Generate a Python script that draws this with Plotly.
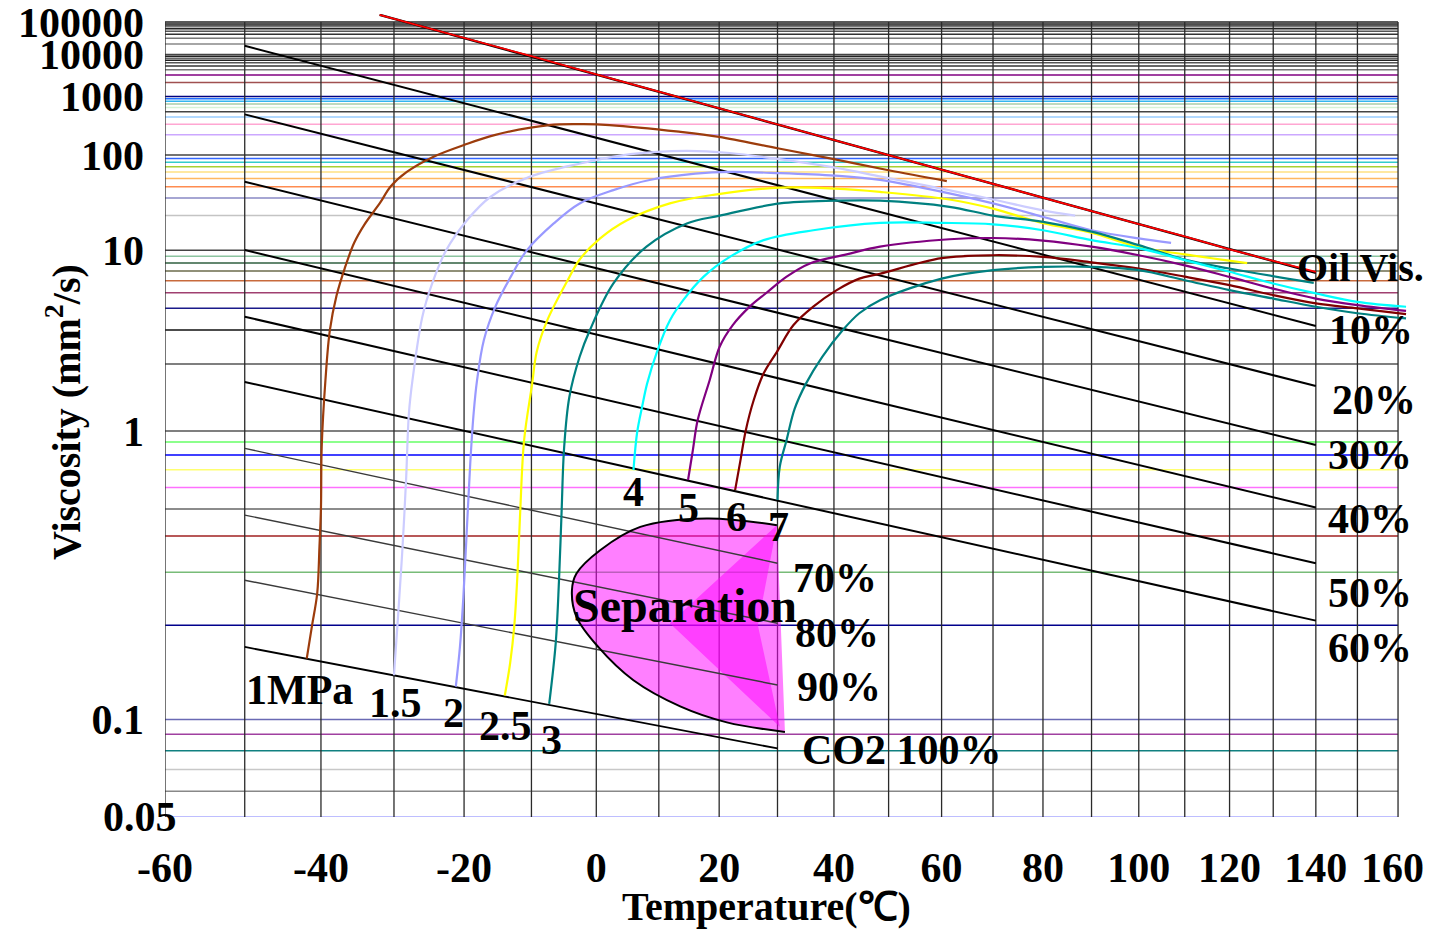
import numpy as np
import plotly.graph_objects as go

FONT = "Liberation Serif, Times New Roman, serif"


# Viscosity-temperature chart coordinates:
# x = log10(T + 273.15), y = log10(log10(nu + 1))
def tx(t):
    return np.log10(np.asarray(t, dtype=float) + 273.15)


def ty(v):
    return np.log10(np.log10(np.asarray(v, dtype=float) + 1.0))


# ---------------- axis ticks ----------------
x_ticks = [-60, -40, -20, 0, 20, 40, 60, 80, 100, 120, 140]
x_tick_text = ["-60", "-40", "-20", "0", "20", "40", "60", "80", "100", "120", "140"]
x_last_tick = 160
y_ticks = [100000, 10000, 1000, 100, 10, 1, 0.1]
y_tick_text = ["100000", "10000", "1000", "100", "10", "1", "0.1"]

# ---------------- grid ----------------
grid_temps = list(range(-60, 161, 10))
grid_visc = [100000, 90000, 80000, 70000, 60000, 50000, 40000, 30000, 20000,
             10000, 9000, 8000, 7000, 6000, 5000, 4000, 3000, 2000,
             1000, 900, 800, 700, 600, 500, 400, 300, 200,
             100, 90, 80, 70, 60, 50, 40, 30, 20,
             10, 9, 8, 7, 6, 5, 4, 3, 2,
             1, 0.9, 0.8, 0.7, 0.6, 0.5, 0.4, 0.3, 0.2,
             0.1, 0.09, 0.08, 0.07, 0.06, 0.05]
grid_colors = ["#222222", "#555555", "#222222", "#777777", "#222222", "#555555", "#333333", "#777777", "#888888",
               "#444444", "#222222", "#666666", "#222222", "#555555", "#333333", "#777777", "#800080", "#A05050",
               "#000080", "#1F6FFF", "#33B5F0", "#A8CCA8", "#D5F2D5", "#444444", "#99CCFF", "#FFA6D2", "#CCA8FF",
               "#444444", "#3366FF", "#33CCCC", "#A8D030", "#FFE080", "#FFB860", "#FF8C50", "#8888C4", "#C4C4C4",
               "#444444", "#8CC4A0", "#2F5F3F", "#6B6B4B", "#C86A3C", "#A04070", "#1A1A8A", "#111111", "#555555",
               "#555555", "#66FF66", "#0000FF", "#FFFF70", "#FF70FF", "#666666", "#A02020", "#78BC78", "#00008C",
               "#6A6AB4", "#A040A0", "#108080", "#C8C8C8", "#888888", "#A8A8FF"]

# ---------------- oil viscosity ----------------
oil_T = [-32, -20, -10, 0, 10, 20, 30, 40, 50, 60, 70, 80, 90, 100, 110, 120, 130, 140]
oil_v = [180000, 31000, 9000, 3100, 1250, 580, 300, 165, 100, 64, 43, 30, 22, 16.7, 13, 10.2, 8.3, 6.9]
oil_fit_T = [-32, 140]
oil_fit_v = [180000, 6.8]

# ---------------- oil / CO2 mixture lines ----------------
dil_names = ["10%", "20%", "30%", "40%", "50%", "60%"]
dil_T = [-50, 140]
dil_start = [17750, 447, 45.6, 10.05, 3.57, 1.64]
dil_end = [3.16, 1.57, 0.876, 0.506, 0.322, 0.207]

rich_names = ["70%", "80%", "90%", "CO2 100%"]
rich_T = [-50, 30]
rich_start = [0.849, 0.475, 0.282, 0.170]
rich_end = [0.322, 0.203, 0.1285, 0.0813]

# ---------------- saturation curves by pressure ----------------
p10_T = [-41.9, -41.2, -40.5, -40.2, -40.0, -39.9, -39.4, -38.8, -37.9, -36.8, -35.5, -34.1,
         -31.9, -30.5, -28.2, -24.4, -20.0, -15.4, -7.3, -2.0, 2.1, 13.3, 20.0, 30.0, 40.0, 50.0, 61.0]
p10_v = [0.156, 0.199, 0.255, 0.367, 0.505, 0.86, 1.67, 3.0, 4.8, 7.3, 11.5, 16.5,
         27, 40, 60, 95, 140, 200, 290, 300, 290, 225, 186, 125, 88, 63, 46.5]

p15_T = [-30.0, -29.4, -28.8, -28.3, -27.9, -27.4, -26.0, -24.6, -22.6, -19.6, -16.1, -10.2,
         -2.5, 5.4, 14.5, 21.8, 30.3, 40.2, 48.6, 60, 70, 80, 86.6]
p15_v = [0.138, 0.219, 0.367, 0.645, 1.19, 1.67, 3.57, 5.75, 10, 18, 31, 52.5,
         77, 103, 115, 107, 88, 68, 52.5, 38, 29, 22.5, 20]

p20_T = [-21.2, -20.6, -20.1, -19.6, -19.1, -18.6, -18.1, -17.1, -15.4, -13.1, -10.7, -6.6,
         -2.6, 2.7, 8.5, 16.0, 21.8, 30.4, 40.2, 48.4, 61.5, 70, 80, 90, 100, 107]
p20_v = [0.127, 0.170, 0.248, 0.42, 0.74, 1.19, 1.67, 2.65, 4.1, 6.4, 10, 16.9,
         26.4, 36.6, 47.8, 57, 60, 58, 54, 48, 33.7, 26.4, 19.5, 14.7, 12.5, 11.5]

p25_T = [-14.0, -13.2, -12.6, -12.1, -11.7, -11.1, -9.9, -9.2, -7.6, -4.5, -2.6, 0.6,
         4.8, 11.8, 19.0, 30.4, 40.2, 48.4, 61.5, 70, 80, 90, 100, 110, 124]
p25_v = [0.119, 0.151, 0.197, 0.297, 0.485, 0.92, 1.6, 2.3, 3.4, 6.0, 8.5, 12.5,
         18, 26.4, 32.5, 39, 38, 35, 29, 23.4, 17, 14, 10.6, 9.3, 8.0]

p30_T = [-7.3, -6.3, -5.8, -5.4, -5.0, -4.2, -2.6, -1.0, 2.7, 8.0, 14.6, 20.1,
         30.4, 40.2, 48.4, 61.5, 70, 80, 90, 100, 110, 120, 139.5]
p30_v = [0.112, 0.175, 0.28, 0.485, 0.86, 1.40, 2.17, 3.0, 5.75, 10.7, 16.9, 20,
         26.4, 28.2, 28.2, 24.4, 20, 17.5, 14.3, 11, 8.5, 7.3, 5.8]

p40_T = [5.9, 6.5, 7.3, 8.1, 9.7, 11.8, 14.0, 17.4, 21.8, 27.6, 36.3, 48.4,
         60, 70, 80, 90, 100, 110, 120, 130, 140, 150, 162]
p40_v = [0.698, 0.99, 1.27, 1.61, 2.3, 3.4, 4.49, 6.4, 8.9, 12.1, 14.7, 17.1,
         17.1, 16.6, 14.7, 12.1, 10.4, 8.42, 6.92, 5.75, 4.95, 4.38, 4.09]

p50_T = [14.8, 15.6, 16.4, 18.4, 20.1, 22.3, 25.2, 28.1, 31.6, 35.7, 42.3, 48.4,
         61.5, 70, 80, 90, 100, 110, 120, 130, 140, 150, 162]
p50_v = [0.64, 0.836, 1.11, 1.67, 2.45, 3.2, 4.1, 5.0, 6.4, 7.95, 9.3, 10.7,
         12.3, 12.6, 12.0, 10.7, 9.16, 7.7, 6.37, 5.32, 4.59, 4.18, 3.86]

p60_T = [22.7, 23.6, 24.5, 25.9, 27.6, 29.9, 32.8, 36.3, 40.5, 44.6, 48.4,
         60, 70, 80, 90, 100, 110, 120, 130, 140, 150, 162]
p60_v = [0.586, 0.76, 1.0, 1.36, 1.8, 2.3, 3.2, 4.1, 5.2, 6.2, 6.7,
         8.7, 9.16, 8.9, 8.1, 7.3, 6.4, 5.6, 4.83, 4.29, 4.0, 3.7]

p70_T = [30.0, 30.4, 31.6, 33.0, 35.0, 37.9, 41.6, 44.6, 48.4,
         60, 70, 80, 90, 100, 110, 120, 130, 140, 150, 162]
p70_v = [0.539, 0.72, 0.92, 1.24, 1.61, 2.17, 3.0, 3.74, 4.49,
         6.2, 7.1, 7.5, 7.5, 7.1, 6.05, 5.2, 4.59, 4.09, 3.74, 3.49]

pressure_names = ["1MPa", "1.5", "2", "2.5", "3", "4", "5", "6", "7"]
pressure_colors = ["#9C3C0C", "#CCCCFF", "#9999FF", "#FFFF00", "#008080",
                   "#00FFFF", "#800080", "#800000", "#008080"]

# ---------------- separation zone ----------------
sep_T = [29.9, 17.9, 7.0, 0.6, -3.1, -3.8, -3.1, 0.3, 5.9, 13.5, 21.3, 31.3]
sep_v = [0.437, 0.462, 0.431, 0.357, 0.297, 0.261, 0.213, 0.170, 0.133, 0.110, 0.098, 0.0915]
sep_core_T = [29.9, 11.8, 30.4, 26.6]
sep_core_v = [0.437, 0.203, 0.0949, 0.200]

# ---------------- text labels (text, T, nu, anchor, size) ----------------
line_labels = [
    ("Oil Vis.", 135.0, 7.4, "left", 40),
    ("10%", 153.3, 3.0, "center", 42),
    ("20%", 154.0, 1.36, "center", 42),
    ("30%", 153.0, 0.80, "center", 42),
    ("40%", 153.0, 0.46, "center", 42),
    ("50%", 153.0, 0.255, "center", 42),
    ("60%", 153.0, 0.169, "center", 42),
    ("70%", 40.2, 0.287, "center", 42),
    ("80%", 40.5, 0.189, "center", 42),
    ("90%", 41.0, 0.127, "center", 42),
    ("CO2 100%", 33.9, 0.0803, "left", 42),
    ("1MPa", -42.8, 0.124, "center", 42),
    ("1.5", -29.8, 0.113, "center", 42),
    ("2", -21.5, 0.105, "center", 42),
    ("2.5", -13.9, 0.0954, "center", 42),
    ("3", -7.0, 0.0863, "center", 42),
    ("4", 5.9, 0.576, "center", 42),
    ("5", 14.9, 0.504, "center", 42),
    ("6", 22.9, 0.467, "center", 42),
    ("7", 30.2, 0.430, "center", 42),
]

# ---------------- figure geometry ----------------
W, H = 1429, 929
M_L, M_R, M_T, M_B = 165, 19, 14, 112
PX_X, PX_Y = 4004.0, 335.0
x_lo = float(tx(-60))
x_hi = x_lo + (W - M_L - M_R) / PX_X
y_lo = float(ty(0.05))
y_hi = y_lo + (H - M_T - M_B) / PX_Y
TXT = 42

fig = go.Figure()


def add_line(T, v, color, width, dash=None, shape="linear"):
    fig.add_trace(go.Scatter(
        x=tx(T), y=ty(v), mode="lines",
        line=dict(color=color, width=width, dash=dash, shape=shape),
        hoverinfo="skip", showlegend=False))


# horizontal grid
for v, c in zip(grid_visc, grid_colors):
    add_line([-60, 160], [v, v], c, 1.5)

# vertical grid
for t in grid_temps:
    add_line([t, t], [0.05, 100000], "#2a2a2a", 1.3)

# separation zone fill
fig.add_trace(go.Scatter(
    x=tx(sep_T), y=ty(sep_v), mode="lines", fill="toself",
    fillcolor="rgba(255,0,255,0.5)", line=dict(width=0, shape="spline"),
    hoverinfo="skip", showlegend=False))
fig.add_trace(go.Scatter(
    x=tx(sep_core_T), y=ty(sep_core_v), mode="lines", fill="toself",
    fillcolor="rgba(255,0,255,0.5)", line=dict(width=0),
    hoverinfo="skip", showlegend=False))

# mixture lines
for s, e in zip(dil_start, dil_end):
    add_line(dil_T, [s, e], "#000000", 2)
for i, (s, e) in enumerate(zip(rich_start, rich_end)):
    add_line(rich_T, [s, e], "#000000" if i == 3 else "#3a3a3a", 1.8 if i == 3 else 1.4)

# separation outline
add_line(sep_T, sep_v, "#000000", 2, shape="spline")

# pressure curves
pressure_T = [p10_T, p15_T, p20_T, p25_T, p30_T, p40_T, p50_T, p60_T, p70_T]
pressure_v = [p10_v, p15_v, p20_v, p25_v, p30_v, p40_v, p50_v, p60_v, p70_v]
for T, v, c in zip(pressure_T, pressure_v, pressure_colors):
    add_line(T, v, c, 2.2, shape="spline")

# oil viscosity line
add_line(oil_fit_T, oil_fit_v, "#000000", 2.4)
add_line(oil_T, oil_v, "#FF0000", 1.8)

annotations = []
for text, T, v, anchor, size in line_labels:
    annotations.append(dict(
        x=float(tx(T)), y=float(ty(v)), xref="x", yref="y", text=text,
        showarrow=False, xanchor=anchor, yanchor="middle",
        font=dict(family=FONT, size=size, color="black", weight="bold")))
annotations.append(dict(
    x=float(tx(14.3)), y=float(ty(0.2325)), xref="x", yref="y", text="Separation",
    showarrow=False, xanchor="center", yanchor="middle",
    font=dict(family=FONT, size=48, color="black", weight="bold")))
# corner tick labels, nudged inward so they stay on the page
annotations.append(dict(
    x=x_lo, y=float(ty(0.05)), xref="x", yref="y", text="0.05", xshift=-25,
    showarrow=False, xanchor="center", yanchor="middle",
    font=dict(family=FONT, size=TXT, color="black", weight="bold")))
annotations.append(dict(
    x=float(tx(x_last_tick)), y=float(ty(0.05)), xref="x", yref="y", text=str(x_last_tick),
    xshift=-6, yshift=-51,
    showarrow=False, xanchor="center", yanchor="middle",
    font=dict(family=FONT, size=TXT, color="black", weight="bold")))
annotations.append(dict(
    x=(766 - M_L) / (W - M_L - M_R), y=-(906 - (H - M_B)) / (H - M_T - M_B),
    xref="paper", yref="paper", text="Temperature(℃)",
    showarrow=False, xanchor="center", yanchor="middle",
    font=dict(family=FONT, size=40, color="black", weight="bold")))
annotations.append(dict(
    x=-(M_L - 63) / (W - M_L - M_R), y=((H - M_B) - 412) / (H - M_T - M_B),
    xref="paper", yref="paper", text="Viscosity (mm<sup>2</sup>/s)", textangle=-90,
    showarrow=False, xanchor="center", yanchor="middle",
    font=dict(family=FONT, size=40, color="black", weight="bold")))

fig.update_layout(
    width=W, height=H, autosize=False,
    margin=dict(l=M_L, r=M_R, t=M_T, b=M_B, pad=0, autoexpand=False),
    paper_bgcolor="white", plot_bgcolor="white",
    showlegend=False,
    annotations=annotations,
    xaxis=dict(range=[x_lo, x_hi], showgrid=False, zeroline=False, showline=False,
               automargin=False, ticklabeloverflow="allow",
               tickmode="array", tickvals=[float(tx(t)) for t in x_ticks],
               ticktext=x_tick_text, ticks="", ticklabelstandoff=22,
               tickfont=dict(family=FONT, size=TXT, color="black", weight="bold")),
    yaxis=dict(range=[y_lo, y_hi], showgrid=False, zeroline=False, showline=False,
               automargin=False, ticklabeloverflow="allow",
               tickmode="array", tickvals=[float(ty(v)) for v in y_ticks],
               ticktext=y_tick_text, ticks="", ticklabelstandoff=20,
               tickfont=dict(family=FONT, size=TXT, color="black", weight="bold")),
)

fig.write_html("out.html")
